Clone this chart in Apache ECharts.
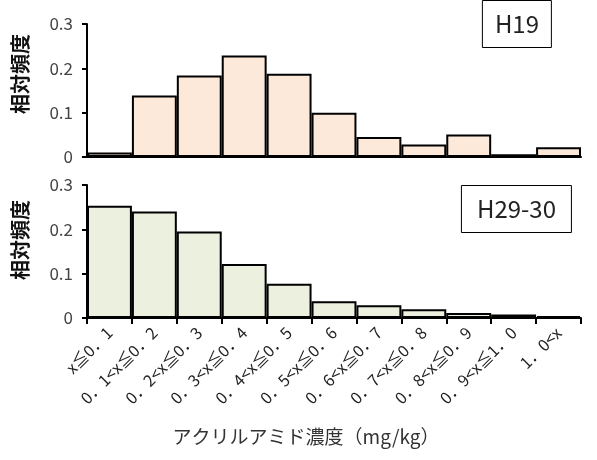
<!DOCTYPE html>
<html>
<head>
    <meta charset="UTF-8"/>
    <script type="text/javascript" src="https://cdn.jsdelivr.net/npm/echarts@6/dist/echarts.min.js"></script>
    <title>echart</title>
    <style>
        html,body{margin:0;padding:0;background:#fff;}
        #main{width:597px;height:460px;}
    </style>
</head>
<body>
<div id="main"></div>
<script>
    // 濃度区分
    var categories = ['x≦0．1', '0．1<x≦0．2', '0．2<x≦0．3', '0．3<x≦0．4', '0．4<x≦0．5', '0．5<x≦0．6',
        '0．6<x≦0．7', '0．7<x≦0．8', '0．8<x≦0．9', '0．9<x≦1．0', '1．0<x'];
    // 相対頻度
    var h19 = [0.010, 0.139, 0.184, 0.229, 0.188, 0.100, 0.045, 0.028, 0.051, 0.006, 0.022];
    var h2930 = [0.253, 0.240, 0.195, 0.122, 0.077, 0.038, 0.029, 0.020, 0.011, 0.008, 0.004];
    var yTicks = [0, 0.1, 0.2, 0.3];
    var font = '"Noto Sans CJK JP", sans-serif';

    var yAxisOf = function (idx) {
        return {
            gridIndex: idx, min: 0, max: 0.3, interval: 0.1,
            axisLine: {show: true, lineStyle: {color: '#000', width: 2}},
            axisTick: {show: true, length: 5, lineStyle: {color: '#000', width: 2}},
            splitLine: {show: false},
            axisLabel: {
                fontFamily: font, fontSize: 17, color: '#444', margin: 14,
                formatter: function (v) {
                    for (var i = 0; i < yTicks.length; i++) if (Math.abs(yTicks[i] - v) < 1e-9) return String(yTicks[i]);
                    return '';
                }
            }
        };
    };
    var xAxisOf = function (idx, showLabel) {
        return {
            type: 'category', gridIndex: idx, data: categories,
            axisLine: {show: true, lineStyle: {color: '#000', width: 2}},
            axisTick: {show: showLabel, length: 6, lineStyle: {color: '#000', width: 2}},
            axisLabel: {
                show: showLabel, interval: 0, rotate: 45, fontFamily: font, fontSize: 16, color: '#222', margin: 12
            }
        };
    };
    var seriesOf = function (idx, data, fill) {
        return {
            type: 'bar', xAxisIndex: idx, yAxisIndex: idx, data: data,
            barCategoryGap: '0%',
            itemStyle: {color: fill, borderColor: '#000', borderWidth: 2},
            silent: true
        };
    };
    var titleOf = function (text, right, top, w) {
        return {
            text: text, right: right, top: top,
            borderColor: '#000', borderWidth: 1,
            padding: [12, w, 12, w],
            textStyle: {fontFamily: font, fontSize: 24, fontWeight: 'normal', color: '#222'}
        };
    };
    var vName = function (y) {
        return {type: 'text', x: 20, y: y, rotation: Math.PI / 2,
            style: {text: '相対頻度', fontFamily: font, fontSize: 20, fontWeight: 'bold', fill: '#111', align: 'center', verticalAlign: 'middle'}};
    };

    var option = {
        animation: false,
        backgroundColor: '#fff',
        title: [titleOf('H19', 45, 0, 13), titleOf('H29-30', 25, 185, 16)],
        grid: [
            {left: 87, top: 24, width: 494, height: 133},
            {left: 87, top: 185, width: 494, height: 133}
        ],
        xAxis: [xAxisOf(0, false), xAxisOf(1, true)],
        yAxis: [yAxisOf(0), yAxisOf(1)],
        series: [seriesOf(0, h19, '#fde9d9'), seriesOf(1, h2930, '#ebf1de')],
        graphic: [
            vName(74), vName(240),
            {type: 'text', x: 306, y: 437,
                style: {text: 'アクリルアミド濃度（mg/kg）', fontFamily: font, fontSize: 19, fill: '#333', align: 'center', verticalAlign: 'middle'}}
        ]
    };
    var chart = echarts.init(document.getElementById('main'));
    chart.setOption(option);
</script>
</body>
</html>
